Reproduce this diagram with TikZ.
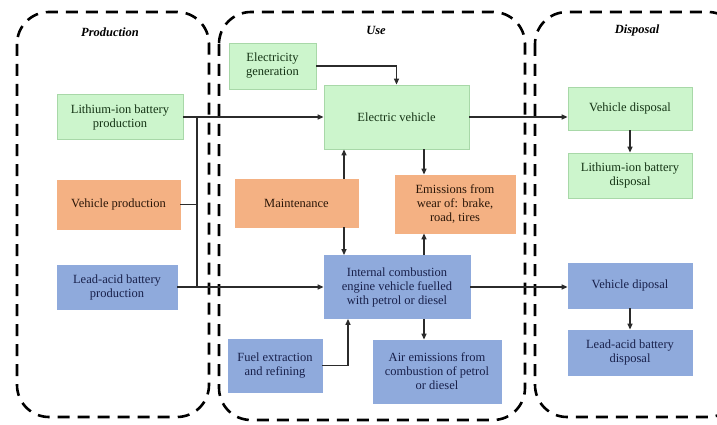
\documentclass[tikz,border=0pt]{standalone}
\usepackage{fontspec}
\setmainfont{Liberation Serif}
\usetikzlibrary{arrows.meta,calc}

\definecolor{gfill}{HTML}{CCF5CC}
\definecolor{gline}{HTML}{A8D8A8}
\definecolor{gtext}{HTML}{143314}
\definecolor{ofill}{HTML}{F4B183}
\definecolor{oline}{HTML}{F4B183}
\definecolor{otext}{HTML}{2A1608}
\definecolor{bfill}{HTML}{8FAADC}
\definecolor{bline}{HTML}{8FAADC}
\definecolor{btext}{HTML}{18204A}
\definecolor{wire}{HTML}{2B2B2B}

\tikzset{
  base/.style={rectangle, inner sep=2pt, align=center, font=\fontsize{12.5}{14}\selectfont},
  greenbox/.style={base, fill=gfill, draw=gline, line width=0.8pt, text=gtext},
  orangebox/.style={base, fill=ofill, draw=oline, line width=0.8pt, text=otext},
  bluebox/.style={base, fill=bfill, draw=bline, line width=0.8pt, text=btext},
  stage/.style={draw=black, line width=2.6pt, dash pattern=on 12pt off 8pt, rounded corners=32pt},
  stagetitle/.style={font=\fontsize{12.5}{14}\selectfont\bfseries\itshape},
  wireline/.style={draw=wire, line width=1.4pt},
  arr/.style={wireline, -{Triangle[length=6pt,width=5pt]}}
}

\begin{document}
\begin{tikzpicture}[x=1pt,y=-1pt]
\useasboundingbox (0,0) rectangle (717,425);
\fill[white] (0,0) rectangle (717,425);
\clip (0,0) rectangle (717,425);

% life-cycle stages
\draw[stage] (17,12) rectangle (209,417);
\draw[stage] (219,12) rectangle (525,420);
\draw[stage] (535,12) rectangle (740,417);
\node[stagetitle] (tprod) at (110,32) {Production};
\node[stagetitle] (tuse)  at (376,30) {Use};
\node[stagetitle] (tdisp) at (637,30) {Disposal};

% production
\node[greenbox,  minimum width=126pt, minimum height=45pt] (liprod) at (120,117) {Lithium-ion battery\\production};
\node[orangebox, minimum width=123pt, minimum height=49pt] (vprod)  at (118.5,204.5) {Vehicle production};
\node[bluebox,   minimum width=120pt, minimum height=44pt] (laprod) at (117,287) {Lead-acid battery\\production};

% use
\node[greenbox,  minimum width=87pt,  minimum height=46pt] (elec)  at (272.5,66) {Electricity\\generation};
\node[greenbox,  minimum width=145pt, minimum height=64pt] (ev)    at (396.5,117) {Electric vehicle};
\node[orangebox, minimum width=123pt, minimum height=48pt] (maint) at (296.5,203) {Maintenance};
\node[orangebox, minimum width=120pt, minimum height=58pt] (wear)  at (455,204) {Emissions from\\wear of: brake,\\road, tires};
\node[bluebox,   minimum width=146pt, minimum height=63pt] (ice)   at (397,287) {Internal combustion\\engine vehicle fuelled\\with petrol or diesel};
\node[bluebox,   minimum width=94pt,  minimum height=53pt] (fuel)  at (275,365.5) {Fuel extraction\\and refining};
\node[bluebox,   minimum width=128pt, minimum height=63pt] (air)   at (437,371.5) {Air emissions from\\combustion of petrol\\or diesel};

% disposal
\node[greenbox, minimum width=124pt, minimum height=43pt] (vdisg)  at (630,108.5) {Vehicle disposal};
\node[greenbox, minimum width=124pt, minimum height=45pt] (libdis) at (630,175.5) {Lithium-ion battery\\disposal};
\node[bluebox,  minimum width=124pt, minimum height=45pt] (vdisb)  at (630,285.5) {Vehicle diposal};
\node[bluebox,  minimum width=124pt, minimum height=45pt] (labdis) at (630,352.5) {Lead-acid battery\\disposal};

% guide columns for vertical connectors
\coordinate (bus) at (197,0);
\coordinate (mx)  at (344,0);
\coordinate (wx)  at (424,0);
\coordinate (fx)  at (348,0);

% production bus
\draw[wireline] (liprod.east -| bus) -- (laprod.east -| bus);
\draw[wireline] (vprod.east) -- (vprod.east -| bus);
\draw[arr] (liprod.east) -- (liprod.east -| ev.west);
\draw[arr] (laprod.east) -- (laprod.east -| ice.west);

% use stage
\draw[arr] (elec.east) -| (ev.north);
\draw[arr] (maint.north -| mx) -- (ev.south -| mx);
\draw[arr] (maint.south -| mx) -- (ice.north -| mx);
\draw[arr] (ev.south -| wx) -- (wear.north -| wx);
\draw[arr] (ice.north -| wx) -- (wear.south -| wx);
\draw[arr] (ice.south -| wx) -- (air.north -| wx);
\draw[arr] (fuel.east) -| (fx |- ice.south);

% to disposal
\draw[arr] (ev.east) -- (ev.east -| vdisg.west);
\draw[arr] (ice.east) -- (ice.east -| vdisb.west);
\draw[arr] (vdisg) -- (libdis);
\draw[arr] (vdisb) -- (labdis);
\end{tikzpicture}
\end{document}
